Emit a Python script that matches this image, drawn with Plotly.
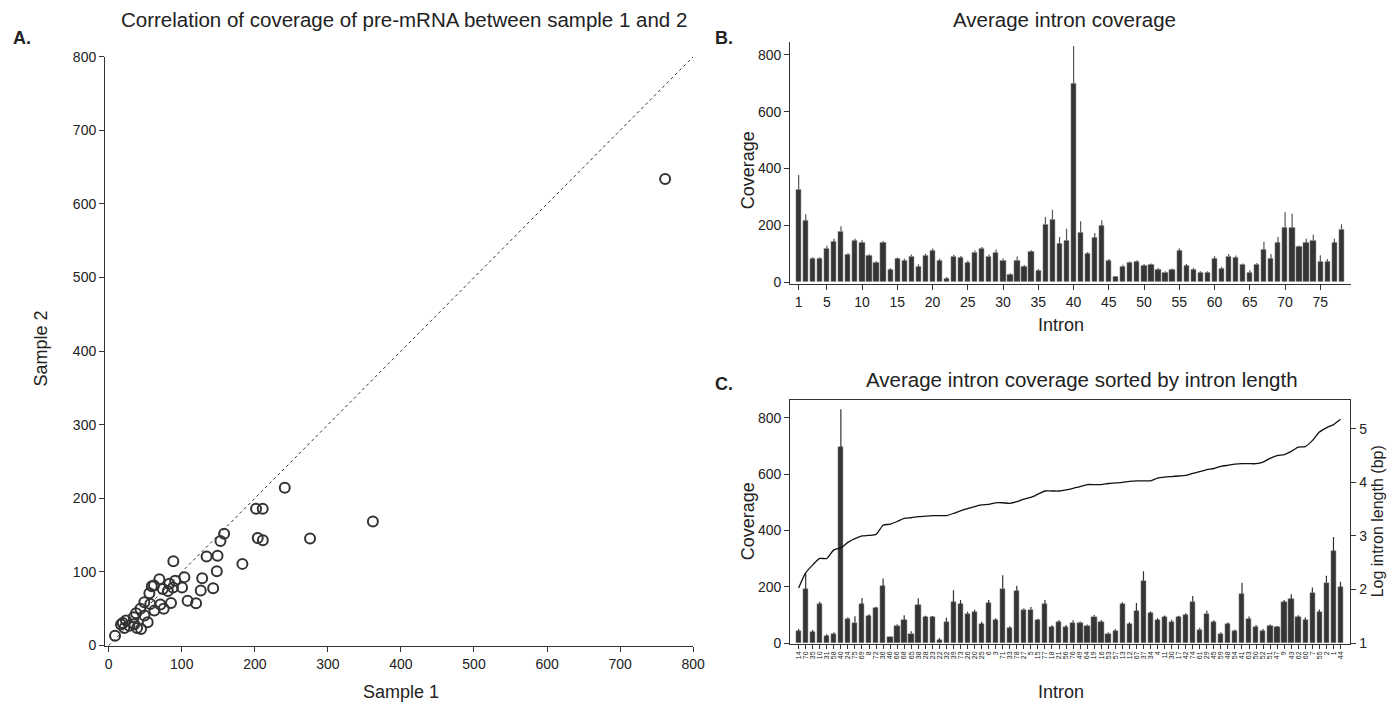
import plotly.graph_objects as go

W, H = 1389, 702
# map target pixel positions to paper fractions (small calibration for the page render)
def fx(p): return ((p + 1.0) / 0.9911) / W
def fy(p): return 1 - ((p - 8.4) / 0.976) / H

# ---------------- Panel A data ----------------
sample1 = [8.7, 241, 201.7, 210.8, 204, 211, 158, 153, 134, 149, 183, 88.5, 148, 128, 143, 126,
           103.6, 69.4, 91, 83, 62, 59, 55.7, 74, 88, 100.4, 81, 108, 119.6, 85.3, 70.7, 57, 48.8,
           75.3, 62.5, 43.4, 37.4, 34.2, 49, 53.4, 23.7, 19.2, 16.9, 21.4, 28.3, 38.8, 44.3, 35,
           361.6, 275.6, 761.6]
sample2 = [13.5, 214.5, 186, 186, 146, 143, 152, 142, 121, 122, 111, 114.6, 101, 91.5, 78, 74.7,
           93, 90, 88, 84, 81.5, 80.6, 71, 77, 79, 79, 74, 61, 57.5, 58, 55.7, 56.6, 59,
           50, 47.5, 50, 44, 38.4, 40.7, 31.6, 34, 30.7, 28.5, 24, 27, 24, 22.6, 29,
           168.7, 145.6, 634]
a_ticks = [0, 100, 200, 300, 400, 500, 600, 700, 800]

# ---------------- Panel B data ----------------
introns = list(range(1, 79))
b_cov = [327, 215, 81, 81, 119, 141, 179, 95, 146, 138,
         92, 68, 138, 44, 81, 76, 91, 56, 94, 111,
         76, 11, 91, 86, 67, 105, 119, 91, 105, 76,
         25, 76, 53, 107, 39, 202, 221, 134, 146, 697,
         174, 99, 155, 198, 75, 20, 56, 67, 72, 58,
         61, 44, 34, 44, 109, 58, 44, 34, 34, 81,
         48, 91, 86, 62, 34, 62, 114, 81, 138, 192,
         193, 123, 138, 147, 73, 73, 138, 185]
b_err = [50, 24, 7, 7, 9, 12, 18, 7, 7, 9,
         6, 6, 7, 6, 5, 6, 6, 7, 6, 7,
         6, 7, 5, 6, 9, 6, 5, 6, 10, 7,
         6, 14, 7, 5, 7, 27, 34, 25, 42, 134,
         40, 7, 18, 20, 6, 2, 5, 6, 5, 6,
         5, 6, 4, 4, 10, 6, 6, 4, 4, 10,
         6, 8, 8, 4, 8, 5, 28, 18, 22, 54,
         48, 6, 15, 20, 22, 8, 15, 19]
b_ticks = [1, 5, 10, 15, 20, 25, 30, 35, 40, 45, 50, 55, 60, 65, 70, 75]
cov_ticks = [0, 200, 400, 600, 800]

# ---------------- Panel C data ----------------
c_order = [14, 70, 35, 10, 31, 58, 40, 24, 75, 69, 8, 72, 36, 46, 66, 68, 65, 38, 28, 23,
           22, 32, 39, 73, 26, 20, 25, 6, 3, 71, 33, 78, 27, 5, 15, 77, 18, 21, 56, 76,
           49, 64, 19, 16, 53, 57, 13, 12, 67, 37, 34, 4, 11, 30, 17, 42, 74, 61, 29, 45,
           59, 48, 54, 41, 63, 50, 52, 51, 47, 9, 43, 62, 60, 7, 55, 2, 1, 44]
log_len = [2.03, 2.31, 2.46, 2.58, 2.58, 2.74, 2.78, 2.88, 2.95, 3.0,
           3.01, 3.03, 3.2, 3.22, 3.27, 3.33, 3.34, 3.36, 3.37, 3.38,
           3.38, 3.38, 3.42, 3.47, 3.51, 3.55, 3.58, 3.59, 3.62, 3.62,
           3.61, 3.64, 3.69, 3.72, 3.78, 3.84, 3.84, 3.84, 3.86, 3.89,
           3.92, 3.96, 3.96, 3.96, 3.98, 3.99, 4.0, 4.02, 4.03, 4.03,
           4.03, 4.08, 4.1, 4.11, 4.12, 4.13, 4.17, 4.2, 4.24, 4.26,
           4.3, 4.32, 4.34, 4.35, 4.35, 4.35, 4.38, 4.45, 4.5, 4.52,
           4.58, 4.66, 4.67, 4.78, 4.94, 5.02, 5.08, 5.18]
log_ticks = [1, 2, 3, 4, 5]

c_pos = list(range(1, len(c_order) + 1))
c_cov = [b_cov[i - 1] for i in c_order]
c_err = [b_err[i - 1] for i in c_order]

FONT = "Liberation Sans, Arial, sans-serif"
INK = "#222222"
BAR = "#353535"

fig = go.Figure()

# Panel A
fig.add_trace(go.Scatter(x=[0, 800], y=[0, 800], mode="lines",
                         line=dict(color="#333", width=1, dash="dot"),
                         xaxis="x", yaxis="y", hoverinfo="skip"))
fig.add_trace(go.Scatter(x=sample1, y=sample2, mode="markers",
                         marker=dict(symbol="circle-open", size=10, color="#333",
                                     line=dict(width=2, color="#333")),
                         xaxis="x", yaxis="y"))

# Panel B
fig.add_trace(go.Bar(x=introns, y=b_cov, width=0.74,
                     marker=dict(color=BAR, line=dict(color="#888", width=0.5)),
                     error_y=dict(type="data", array=b_err, arrayminus=[0] * len(b_err),
                                  symmetric=False, width=0, thickness=1.2, color="#555"),
                     xaxis="x2", yaxis="y2"))

# Panel C
fig.add_trace(go.Bar(x=c_pos, y=c_cov, width=0.74,
                     marker=dict(color=BAR, line=dict(color="#888", width=0.5)),
                     error_y=dict(type="data", array=c_err, arrayminus=[0] * len(c_err),
                                  symmetric=False, width=0, thickness=1.2, color="#333"),
                     xaxis="x3", yaxis="y3"))
fig.add_trace(go.Scatter(x=c_pos, y=log_len, mode="lines",
                         line=dict(color="#111", width=1.3, shape="spline", smoothing=0.6),
                         xaxis="x3", yaxis="y4"))

ax_common = dict(showgrid=False, zeroline=False, showline=True, linecolor="#333", linewidth=1,
                 ticks="outside", ticklen=5, tickcolor="#333",
                 tickfont=dict(family=FONT, size=14, color=INK))

fig.update_layout(
    width=W, height=H,
    margin=dict(l=0, r=0, t=0, b=0),
    paper_bgcolor="white", plot_bgcolor="white",
    showlegend=False, bargap=0,
    font=dict(family=FONT, color=INK),
    xaxis=dict(ax_common, domain=[fx(104), fx(692)], range=[-5, 800],
               tickvals=a_ticks, anchor="y"),
    yaxis=dict(ax_common, domain=[fy(645), fy(57)], range=[-1, 800],
               tickvals=a_ticks, anchor="x"),
    xaxis2=dict(ax_common, domain=[fx(789), fx(1350)], range=[-0.2, 79.4],
                tickvals=b_ticks, anchor="y2"),
    yaxis2=dict(ax_common, domain=[fy(283.5), fy(42)], range=[-6, 846],
                tickvals=cov_ticks, anchor="x2"),
    xaxis3=dict(ax_common, domain=[fx(789), fx(1349)], range=[-0.2, 79.4],
                tickvals=c_pos, ticktext=[str(v) for v in c_order], tickangle=-90,
                tickfont=dict(family=FONT, size=7, color=INK), ticklen=4,
                mirror=True, anchor="y3"),
    yaxis3=dict(ax_common, domain=[fy(642.3), fy(399.3)], range=[-2, 864],
                tickvals=cov_ticks, anchor="x3"),
    yaxis4=dict(ax_common, overlaying="y3", side="right", range=[0.99, 5.54],
                tickvals=log_ticks, anchor="x3"),
)

def ann(text, x, y, size, bold=False, angle=0):
    fig.add_annotation(text=f"<b>{text}</b>" if bold else text,
                       x=fx(x), y=fy(y), xref="paper", yref="paper",
                       showarrow=False, textangle=angle,
                       xanchor="center", yanchor="middle",
                       font=dict(family=FONT, size=size, color=INK))

ann("A.", 21, 38, 18, bold=True)
ann("Correlation of coverage of pre-mRNA between sample 1 and 2", 403, 20, 20.5)
ann("Sample 2", 40, 348, 18, angle=-90)
ann("Sample 1", 400, 691, 18)
ann("B.", 723, 38, 18, bold=True)
ann("Average intron coverage", 1063, 20, 20.5)
ann("Coverage", 747, 170, 18, angle=-90)
ann("Intron", 1060, 325, 18)
ann("C.", 723, 383, 18, bold=True)
ann("Average intron coverage sorted by intron length", 1081, 379, 20.5)
ann("Coverage", 747, 520, 18, angle=-90)
ann("Log intron length (bp)", 1377, 520, 16, angle=-90)
ann("Intron", 1060, 691, 18)

fig.write_html("out.html", config={"displayModeBar": False},
               post_script="document.body.style.margin='0';document.body.style.overflow='hidden';")
